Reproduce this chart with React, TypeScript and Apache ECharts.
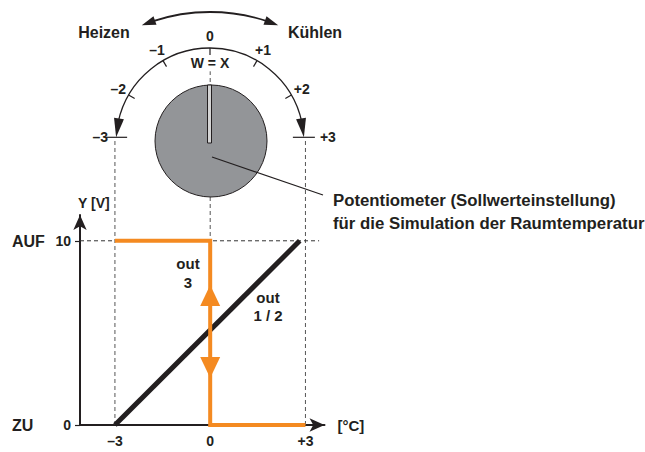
import React, { useEffect, useRef } from "react";
import * as echarts from "echarts";

// ---- data ----
const xTicks = [-3, 0, 3];
const yTicks = [0, 10];
const out12Line = [[-3, 0], [2.82, 10]];
const out3Line = [[-3, 10], [0, 10], [0, 0], [3, 0]];
const arrowUpAt = [0, 7.03];
const arrowDownAt = [0, 3.12];
const guideX = [-3, 0, 3];
const guideTop = [15.5, 19.2, 15.5];
const levelLine = [[-4.1, 10], [3.43, 10]];
const dialValues = [-3, -2, -1, 0, 1, 2, 3];
const dialLabels = ["–3", "–2", "–1", "0", "+1", "+2", "+3"];

const C = "#231f20";
const ORANGE = "#F48A21";
const FONT = '"Liberation Sans", Arial, Helvetica, sans-serif';

function txt(x: number, y: number, text: string, size: number, align = "center") {
  return {
    type: "text",
    x,
    y,
    z: 60,
    style: {
      text,
      fill: C,
      fontSize: size,
      fontWeight: "bold",
      fontFamily: FONT,
      align,
      verticalAlign: "middle",
    },
  };
}

function arcArrow(cx: number, cy: number, R: number, aTip: number, aBase: number, w: number) {
  const tip = [cx + R * Math.cos(aTip), cy + R * Math.sin(aTip)];
  const base = [cx + R * Math.cos(aBase), cy + R * Math.sin(aBase)];
  const dx = tip[0] - base[0];
  const dy = tip[1] - base[1];
  const L = Math.hypot(dx, dy);
  const nx = (-dy / L) * w;
  const ny = (dx / L) * w;
  return {
    type: "polygon",
    z: 55,
    shape: { points: [tip, [base[0] + nx, base[1] + ny], [base[0] - nx, base[1] - ny]] },
    style: { fill: C },
  };
}

function buildGraphic() {
  const els: any[] = [];
  // top double arrow
  const tcx = 210, tcy = 194, TR = 182, tA = 0.384, tL = 14 / 182;
  els.push({
    type: "arc",
    z: 50,
    shape: { cx: tcx, cy: tcy, r: TR, startAngle: 1.5 * Math.PI - tA + tL * 0.8, endAngle: 1.5 * Math.PI + tA - tL * 0.8, clockwise: true },
    style: { stroke: C, lineWidth: 1.8, fill: "none" },
  });
  els.push(arcArrow(tcx, tcy, TR, 1.5 * Math.PI - tA, 1.5 * Math.PI - tA + tL, 4.5));
  els.push(arcArrow(tcx, tcy, TR, 1.5 * Math.PI + tA, 1.5 * Math.PI + tA - tL, 4.5));
  els.push(txt(104, 32, "Heizen", 16));
  els.push(txt(315, 32, "Kühlen", 16));

  // dial
  const dcx = 210, dcy = 142, DR = 94, eA = 0.05, aL = 19 / 94;
  els.push({
    type: "arc",
    z: 50,
    shape: { cx: dcx, cy: dcy, r: DR, startAngle: Math.PI + eA + aL * 0.8, endAngle: 2 * Math.PI - eA - aL * 0.8, clockwise: true },
    style: { stroke: C, lineWidth: 1.3, fill: "none" },
  });
  els.push(arcArrow(dcx, dcy, DR, Math.PI + eA, Math.PI + eA + aL, 5));
  els.push(arcArrow(dcx, dcy, DR, 2 * Math.PI - eA, 2 * Math.PI - eA - aL, 5));
  const tipLx = dcx - DR * Math.cos(eA);
  const tipRx = dcx + DR * Math.cos(eA);
  const tipY = dcy - DR * Math.sin(eA);
  els.push({ type: "line", z: 50, shape: { x1: tipLx - 11, y1: tipY, x2: tipLx + 11, y2: tipY }, style: { stroke: C, lineWidth: 1.2 } });
  els.push({ type: "line", z: 50, shape: { x1: tipRx - 11, y1: tipY, x2: tipRx + 11, y2: tipY }, style: { stroke: C, lineWidth: 1.2 } });
  dialValues.forEach((v, i) => {
    const a = 1.5 * Math.PI + (v * Math.PI) / 6;
    if (Math.abs(v) < 3) {
      els.push({
        type: "line",
        z: 50,
        shape: { x1: dcx + DR * Math.cos(a), y1: dcy + DR * Math.sin(a), x2: dcx + (DR - 7) * Math.cos(a), y2: dcy + (DR - 7) * Math.sin(a) },
        style: { stroke: C, lineWidth: 1.2 },
      });
      els.push(txt(dcx + 106 * Math.cos(a), dcy + 106 * Math.sin(a), dialLabels[i], 14));
    } else if (v < 0) {
      els.push(txt(tipLx - 8, tipY, dialLabels[i], 14, "right"));
    } else {
      els.push(txt(tipRx + 16, tipY, dialLabels[i], 14, "left"));
    }
  });
  els.push(txt(210, 63, "W = X", 14));

  // knob
  els.push({ type: "circle", z: 40, shape: { cx: 211, cy: 141, r: 56 }, style: { fill: "#939598", stroke: C, lineWidth: 1 } });
  els.push({ type: "rect", z: 45, shape: { x: 207.5, y: 85, width: 4, height: 58 }, style: { fill: "#d4d4d4", stroke: C, lineWidth: 1 } });
  els.push({ type: "line", z: 46, shape: { x1: 212, y1: 157, x2: 323, y2: 195 }, style: { stroke: C, lineWidth: 1.2 } });
  els.push(txt(333, 200, "Potentiometer (Sollwerteinstellung)", 16.8, "left"));
  els.push(txt(333, 223, "für die Simulation der Raumtemperatur", 16.8, "left"));

  // plot annotations
  els.push(txt(188, 263, "out", 15));
  els.push(txt(188, 282, "3", 15));
  els.push(txt(268, 297, "out", 15));
  els.push(txt(268, 315, "1 / 2", 15));
  els.push(txt(12, 241, "AUF", 16, "left"));
  els.push(txt(12, 425, "ZU", 16, "left"));
  return els;
}

export default function App() {
  const ref = useRef<HTMLDivElement>(null);
  useEffect(() => {
    document.body.style.margin = "0";
    if (!ref.current) return;
    const chart = echarts.init(ref.current, undefined, { renderer: "svg" });
    const labelStyle = { color: C, fontWeight: "bold", fontSize: 14, fontFamily: FONT };
    const guideSeries = guideX.map((gx, i) => ({
      type: "line",
      data: [[gx, 0], [gx, guideTop[i]]],
      symbol: "none",
      clip: false,
      silent: true,
      z: 1,
      lineStyle: { color: "#555", width: 1, type: [4, 3] },
    }));
    chart.setOption({
      animation: false,
      grid: { left: 80, right: 320.5, top: 215, bottom: 27, containLabel: false },
      xAxis: {
        type: "value",
        min: -4.1,
        max: 3.6,
        axisLine: { show: true, onZero: false, symbol: ["none", "arrow"], symbolSize: [10, 15], lineStyle: { color: C, width: 2 } },
        axisTick: { show: false },
        splitLine: { show: false },
        axisLabel: {
          ...labelStyle,
          margin: 9,
          customValues: xTicks,
          formatter: (v: number) => (v < 0 ? "–" + Math.abs(v) : v > 0 ? "+" + v : "0"),
        },
        name: "[°C]",
        nameLocation: "end",
        nameGap: 13,
        nameTextStyle: { ...labelStyle, fontSize: 15, verticalAlign: "middle", align: "left" },
      },
      yAxis: {
        type: "value",
        min: 0,
        max: 11.4,
        axisLine: { show: true, onZero: false, symbol: ["none", "arrow"], symbolSize: [10, 15], lineStyle: { color: C, width: 2 } },
        axisTick: { show: true, length: 5, customValues: yTicks, lineStyle: { color: C, width: 1.2 } },
        splitLine: { show: false },
        axisLabel: { ...labelStyle, margin: 9, customValues: yTicks },
        name: "Y [V]",
        nameLocation: "end",
        nameGap: 5,
        nameTextStyle: { ...labelStyle, align: "left", padding: [0, 0, 0, -2] },
      },
      graphic: buildGraphic(),
      series: [
        ...guideSeries,
        {
          type: "line",
          data: levelLine,
          symbol: "none",
          silent: true,
          z: 1,
          lineStyle: { color: "#333", width: 1, type: [4, 3] },
        },
        {
          type: "line",
          data: out12Line,
          symbol: "none",
          z: 3,
          lineStyle: { color: C, width: 5 },
        },
        {
          type: "line",
          data: out3Line,
          symbol: "none",
          z: 4,
          clip: false,
          lineStyle: { color: ORANGE, width: 4, join: "miter" },
          markPoint: {
            silent: true,
            label: { show: false },
            itemStyle: { color: ORANGE },
            data: [
              { coord: arrowUpAt, symbol: "triangle", symbolSize: [20, 21], symbolRotate: 0 },
              { coord: arrowDownAt, symbol: "triangle", symbolSize: [20, 21], symbolRotate: 180 },
            ],
          },
        },
      ],
    });
    return () => chart.dispose();
  }, []);
  return <div ref={ref} style={{ width: 645, height: 452 }} />;
}
